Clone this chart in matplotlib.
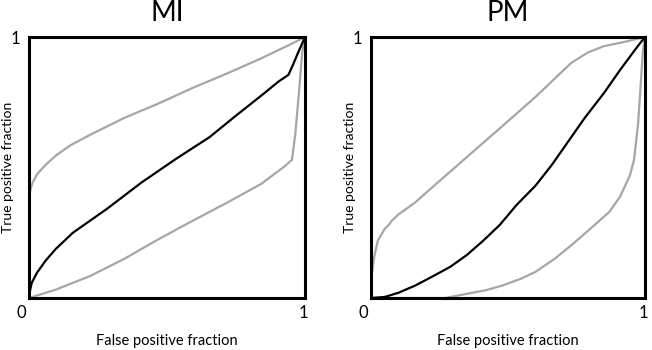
import matplotlib
matplotlib.use("Agg")
import matplotlib.pyplot as plt

plt.rcParams['font.family'] = ['Lato', 'DejaVu Sans']

# MI panel curves (false positive fraction, true positive fraction)
mi_mid_x = [0, 0.004, 0.01, 0.029, 0.06, 0.097, 0.159, 0.283, 0.407, 0.531, 0.655, 0.742, 0.841, 0.905, 0.94, 0.955, 0.975, 1]
mi_mid_y = [0, 0.03, 0.058, 0.097, 0.143, 0.188, 0.25, 0.342, 0.442, 0.532, 0.617, 0.692, 0.775, 0.83, 0.855, 0.89, 0.94, 1]

mi_up_x = [0, 0, 0.004, 0.012, 0.029, 0.06, 0.1, 0.15, 0.221, 0.345, 0.469, 0.593, 0.717, 0.841, 0.94, 1]
mi_up_y = [0, 0.37, 0.41, 0.44, 0.474, 0.51, 0.548, 0.585, 0.625, 0.69, 0.745, 0.805, 0.86, 0.918, 0.968, 1]

mi_lo_x = [0, 0.03, 0.097, 0.221, 0.345, 0.469, 0.593, 0.717, 0.841, 0.928, 0.953, 0.965, 0.978, 0.99, 1]
mi_lo_y = [0, 0.01, 0.032, 0.084, 0.15, 0.225, 0.296, 0.365, 0.437, 0.506, 0.53, 0.63, 0.786, 0.942, 1]

# PM panel curves
pm_mid_x = [0, 0.05, 0.1, 0.16, 0.22, 0.29, 0.35, 0.41, 0.47, 0.53, 0.6, 0.66, 0.72, 0.78, 0.85, 0.91, 0.97, 1]
pm_mid_y = [0, 0.004, 0.02, 0.047, 0.08, 0.12, 0.165, 0.22, 0.28, 0.355, 0.43, 0.51, 0.6, 0.69, 0.785, 0.875, 0.96, 1]

pm_up_x = [0, 0.002, 0.012, 0.025, 0.05, 0.065, 0.075, 0.1, 0.16, 0.23, 0.35, 0.47, 0.6, 0.67, 0.73, 0.79, 0.85, 0.92, 1]
pm_up_y = [0, 0.084, 0.16, 0.22, 0.265, 0.28, 0.295, 0.32, 0.365, 0.43, 0.54, 0.65, 0.77, 0.84, 0.9, 0.94, 0.965, 0.98, 1]

pm_lo_x = [0, 0.27, 0.31, 0.35, 0.42, 0.48, 0.55, 0.6, 0.67, 0.74, 0.8, 0.87, 0.91, 0.945, 0.96, 0.975, 0.985, 0.992, 1]
pm_lo_y = [0, 0, 0.008, 0.016, 0.03, 0.048, 0.075, 0.1, 0.15, 0.21, 0.265, 0.33, 0.39, 0.47, 0.53, 0.67, 0.83, 0.94, 1]

titles = ["MI", "PM"]
curves = [
    (mi_up_x, mi_up_y, mi_mid_x, mi_mid_y, mi_lo_x, mi_lo_y),
    (pm_up_x, pm_up_y, pm_mid_x, pm_mid_y, pm_lo_x, pm_lo_y),
]

fig = plt.figure(figsize=(6.52, 3.5), dpi=100)
W, H = 652, 350
boxes = [(29, 305), (371, 645)]
top, bottom = 37, 298

for (x0, x1), title, c in zip(boxes, titles, curves):
    ax = fig.add_axes([x0 / W, 1 - bottom / H, (x1 - x0) / W, (bottom - top) / H])
    ux, uy, mx, my, lx, ly = c
    ax.plot(ux, uy, color="#a6a6a6", lw=1.6, solid_joinstyle="round")
    ax.plot(lx, ly, color="#a6a6a6", lw=1.6, solid_joinstyle="round")
    ax.plot(mx, my, color="black", lw=1.6, solid_joinstyle="round")
    ax.set_xlim(0, 1)
    ax.set_ylim(0, 1)
    ax.set_xticks([])
    ax.set_yticks([])
    for s in ax.spines.values():
        s.set_linewidth(2.2)
        s.set_color("black")
    # corner labels
    ax.text(-8 / (x1 - x0), -15 / (bottom - top), "0", transform=ax.transAxes,
            ha="center", va="center", fontsize=12)
    ax.text(1 - 2 / (x1 - x0), -15 / (bottom - top), "1", transform=ax.transAxes,
            ha="center", va="center", fontsize=12)
    ax.text(-14 / (x1 - x0), 1 - 2 / (bottom - top), "1", transform=ax.transAxes,
            ha="center", va="center", fontsize=12)
    ax.text(0.5, -43 / (bottom - top), "False positive fraction", transform=ax.transAxes,
            ha="center", va="center", fontsize=10.5)
    ax.text(-21 / (x1 - x0), 0.5, "True positive fraction", transform=ax.transAxes,
            ha="center", va="center", rotation=90, fontsize=10)
    ax.text(0.5, 1 + 24 / (bottom - top), title, transform=ax.transAxes,
            ha="center", va="center", fontsize=20)

fig.savefig("out.png", dpi=100)
